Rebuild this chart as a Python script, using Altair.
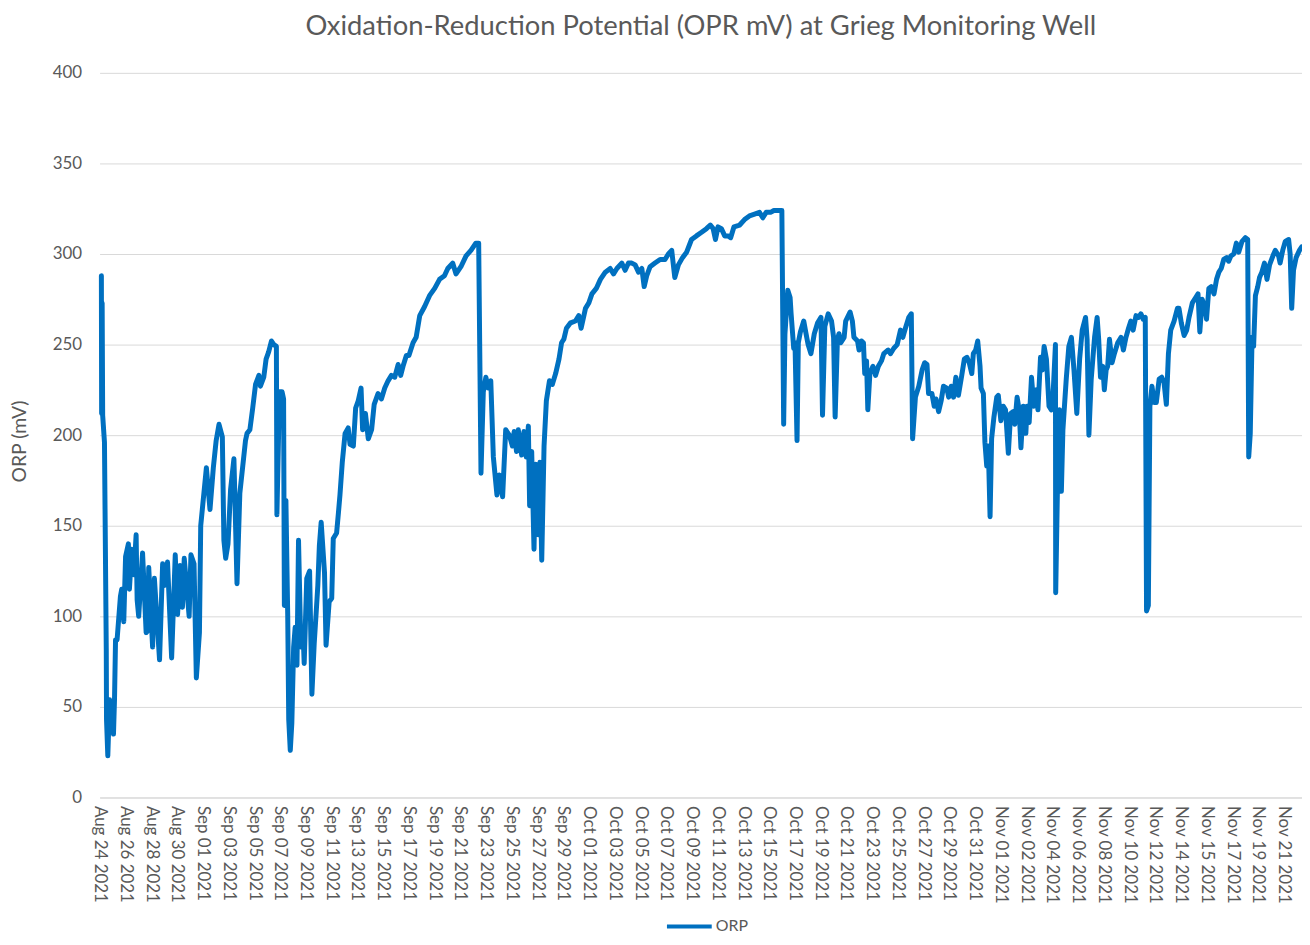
import json
import altair as alt
import pandas as pd

# Category labels shown on the x axis (every 10th category position)
x_labels = [
    "Aug 24 2021", "Aug 26 2021", "Aug 28 2021", "Aug 30 2021",
    "Sep 01 2021", "Sep 03 2021", "Sep 05 2021", "Sep 07 2021", "Sep 09 2021",
    "Sep 11 2021", "Sep 13 2021", "Sep 15 2021", "Sep 17 2021", "Sep 19 2021",
    "Sep 21 2021", "Sep 23 2021", "Sep 25 2021", "Sep 27 2021", "Sep 29 2021",
    "Oct 01 2021", "Oct 03 2021", "Oct 05 2021", "Oct 07 2021", "Oct 09 2021",
    "Oct 11 2021", "Oct 13 2021", "Oct 15 2021", "Oct 17 2021", "Oct 19 2021",
    "Oct 21 2021", "Oct 23 2021", "Oct 25 2021", "Oct 27 2021", "Oct 29 2021",
    "Oct 31 2021", "Nov 01 2021", "Nov 02 2021", "Nov 04 2021", "Nov 06 2021",
    "Nov 08 2021", "Nov 10 2021", "Nov 12 2021", "Nov 14 2021", "Nov 15 2021",
    "Nov 17 2021", "Nov 19 2021", "Nov 21 2021",
]

# Category position (tenths of a label interval)
pos = [
    0.7, 0.8, 1.0, 1.2, 1.9, 2.6, 2.7, 3.2, 3.9, 4.5, 5.4, 5.8, 6.2, 6.8, 8.1, 8.6, 9.4,
    10.1, 11.2, 11.6, 12.5, 13.3, 14.2, 14.6, 15.2, 16.7, 18.1, 18.7, 19.1, 20.6, 21.3,
    23.3, 24.5, 25.1, 26.4, 28.0, 29.4, 30.3, 31.3, 32.2, 32.9, 34.8, 35.5, 36.7, 37.6,
    38.8, 39.3, 41.5, 42.9, 44.2, 45.3, 46.4, 47.7, 48.3, 49.0, 49.9, 50.9, 52.2, 53.4,
    54.5, 56.7, 57.3, 58.4, 59.5, 60.6, 61.9, 62.5, 63.8, 64.7, 65.7, 66.8, 67.7, 68.7,
    68.9, 69.9, 70.9, 71.5, 71.8, 72.4, 73.1, 73.5, 74.1, 74.7, 75.4, 76.0, 76.7, 77.3,
    78.2, 79.0, 79.5, 80.5, 81.6, 82.5, 83.4, 84.2, 84.8, 85.4, 86.1, 87.4, 88.0, 89.2,
    90.2, 90.8, 92.1, 92.8, 93.4, 94.3, 95.4, 96.6, 97.3, 98.6, 99.5, 100.5, 101.6,
    102.2, 103.3, 104.4, 105.7, 106.7, 108.2, 109.5, 110.8, 112.1, 113.4, 114.7, 116.0,
    117.0, 117.9, 119.2, 120.2, 121.8, 123.0, 124.4, 126.3, 128.2, 130.2, 132.1, 134.0,
    135.3, 137.2, 138.5, 140.4, 142.4, 144.3, 146.2, 147.3, 148.2, 149.1, 150.1, 151.0,
    152.0, 153.0, 154.4, 155.3, 156.6, 157.8, 159.2, 160.4, 161.1, 162.0, 162.7, 164.0,
    164.9, 165.8, 166.6, 167.1, 167.9, 168.8, 169.4, 170.5, 171.1, 171.8, 172.7, 173.6,
    174.8, 175.9, 177.2, 178.5, 179.5, 180.4, 181.4, 183.0, 184.9, 186.2, 187.1, 188.8,
    190.1, 191.3, 193.0, 194.6, 196.5, 198.4, 199.7, 201.0, 202.9, 204.2, 205.5, 206.8,
    208.1, 209.4, 210.7, 211.6, 212.6, 213.9, 215.8, 217.8, 219.7, 221.0, 222.3, 223.5,
    224.9, 226.5, 228.1, 230.0, 231.9, 233.9, 235.8, 237.3, 238.4, 239.3, 240.3, 241.6,
    242.9, 244.2, 245.2, 246.5, 248.7, 250.6, 252.5, 254.5, 256.4, 257.7, 259.0, 260.7,
    262.0, 263.3, 265.1, 265.8, 266.3, 267.4, 268.3, 268.7, 269.7, 270.2, 271.0, 271.5,
    272.3, 273.6, 274.5, 275.3, 276.4, 277.7, 279.0, 280.3, 280.9, 281.8, 283.1, 284.4,
    285.2, 285.8, 286.7, 287.3, 288.0, 289.3, 289.9, 290.6, 291.6, 292.5, 293.1, 294.5,
    295.1, 296.0, 296.8, 297.3, 298.0, 298.5, 299.3, 300.5, 301.5, 302.6, 303.8, 304.7,
    306.4, 307.3, 308.6, 309.9, 311.2, 312.1, 313.1, 314.4, 315.4, 315.9, 317.0, 318.3,
    319.6, 320.6, 321.5, 322.1, 323.4, 324.3, 325.0, 326.0, 327.0, 327.9, 329.2, 329.9,
    330.9, 331.8, 332.7, 333.7, 335.0, 336.0, 337.0, 337.9, 338.9, 339.5, 340.4, 341.2,
    342.1, 342.5, 343.4, 344.0, 344.7, 345.3, 346.0, 346.6, 347.5, 348.6, 349.2, 350.2,
    351.1, 352.0, 353.1, 354.0, 355.0, 355.6, 356.5, 357.3, 358.0, 358.9, 359.9, 360.4,
    361.2, 362.1, 363.0, 364.0, 364.6, 365.6, 366.3, 367.0, 367.9, 368.9, 369.8, 370.4,
    371.4, 371.5, 372.4, 373.0, 373.7, 374.3, 375.6, 376.6, 377.6, 378.6, 379.7, 380.8,
    381.8, 383.1, 383.7, 384.4, 385.3, 386.6, 387.6, 388.2, 388.9, 389.8, 390.4, 391.1,
    391.7, 392.4, 393.4, 394.3, 395.6, 396.9, 397.8, 398.8, 399.8, 400.7, 401.6, 402.7,
    403.7, 404.6, 405.5, 406.3, 406.8, 407.5, 408.1, 408.9, 409.8, 410.6, 411.7, 412.7,
    413.6, 414.5, 415.3, 416.2, 417.5, 418.8, 419.4, 420.3, 421.4, 422.4, 423.3, 424.6,
    425.9, 426.8, 427.5, 428.4, 429.4, 430.1, 431.0, 431.9, 433.0, 434.0, 434.9, 435.8,
    436.8, 437.9, 438.7, 439.6, 440.7, 441.7, 442.6, 443.9, 445.2, 446.1, 446.5, 447.1,
    447.8, 448.4, 449.1, 450.0, 450.7, 451.6, 452.6, 453.6, 454.6, 455.9, 456.8, 458.1,
    458.7, 459.7, 460.7, 462.0, 462.6, 463.2, 463.9, 464.9, 466.2, 467.1,
]

orp = [
    288, 212, 273, 211, 196, 82, 43, 23, 54, 45, 35, 54, 87, 87, 111, 115, 97,
    133, 140, 115, 137, 123, 145, 109, 100, 135, 91, 92, 127, 83, 121,
    76, 129, 117, 130, 77, 134, 101, 128, 105, 132, 100, 134, 129, 66,
    91, 150, 182, 159, 182, 197, 206, 199, 142, 132, 140, 170, 187, 118,
    168, 197, 201, 203, 215, 228, 233, 227, 232, 242, 246, 252, 250, 249,
    156, 224, 224, 220, 106, 164, 101, 43, 26, 41, 83, 94, 73, 142,
    83, 94, 74, 121, 125, 57, 85, 103, 117, 139, 152, 124, 84, 108,
    110, 143, 146, 157, 167, 185, 201, 204, 195, 194, 215, 219, 226,
    203, 212, 198, 203, 217, 223, 220, 226, 230, 233, 232, 239,
    233, 238, 244, 244, 251, 254, 266, 271, 277, 281, 286, 288,
    292, 295, 289, 293, 299, 302, 306, 306, 179, 224, 232, 226,
    230, 188, 167, 178, 166, 203, 200, 194, 202, 191, 203, 189,
    202, 188, 205, 161, 191, 137, 184, 145, 185, 131, 194, 219,
    230, 228, 234, 242, 251, 253, 259, 262, 263, 266, 259, 270,
    273, 278, 281, 286, 290, 292, 289, 292, 295, 291, 295, 295,
    294, 290, 292, 282, 288, 293, 295, 297, 297, 300, 302, 287,
    294, 298, 301, 308, 310, 312, 314, 316, 314, 308, 315, 314,
    310, 310, 309, 315, 316, 319, 321, 322, 323, 320, 323, 323,
    324, 324, 324, 206, 256, 280, 276, 267, 248, 251, 197, 251,
    257, 263, 256, 250, 245, 256, 262, 265, 211, 260, 267, 263,
    254, 210, 253, 256, 251, 254, 263, 265, 268, 263, 254, 252,
    247, 252, 251, 234, 241, 214, 234, 238, 233, 238, 241, 245,
    247, 245, 248, 250, 258, 254, 259, 265, 267, 198, 221, 227,
    236, 240, 239, 223, 223, 216, 220, 213, 219, 227, 226, 221,
    227, 221, 232, 222, 233, 242, 243, 240, 234, 245, 247, 252,
    238, 226, 223, 196, 183, 194, 155, 198, 210, 221, 222, 208,
    216, 214, 190, 212, 213, 206, 221, 214, 193, 216, 201, 216,
    207, 232, 216, 225, 214, 243, 236, 249, 242, 216, 214, 220,
    250, 113, 189, 214, 169, 203, 231, 249, 254, 236, 212, 242,
    258, 265, 253, 200, 231, 254, 265, 253, 232, 238, 225, 236,
    238, 253, 240, 245, 251, 254, 247, 254, 259, 263, 258, 266,
    265, 267, 264, 265, 103, 106, 216, 227, 218, 218, 231, 232,
    229, 217, 245, 258, 263, 270, 270, 262, 255, 258, 265, 273,
    276, 278, 257, 275, 271, 264, 281, 282, 278, 286, 290, 292,
    297, 298, 296, 299, 300, 306, 301, 307, 309, 308, 188, 201,
    254, 249, 277, 282, 287, 290, 295, 286, 294, 299, 302, 299,
    295, 302, 307, 308, 300, 270, 291, 298, 302, 304,
]

series_name = ["ORP"]
y_ticks = [0, 50, 100, 150, 200, 250, 300, 350, 400]

df = pd.DataFrame({"pos": pos, "orp": orp, "series": series_name * len(pos)})

label_expr = json.dumps(x_labels) + "[round(datum.value / 10)]"
tick_positions = [i * 10 for i in range(len(x_labels))]

GRAY = "#595959"
BLUE = "#0070C0"

chart = (
    alt.Chart(df)
    .mark_line(strokeWidth=5, strokeJoin="round", strokeCap="round")
    .encode(
        x=alt.X(
            "pos:Q",
            scale=alt.Scale(domain=[0, 467.2], nice=False, zero=False),
            axis=alt.Axis(
                title=None,
                values=tick_positions,
                labelExpr=label_expr,
                labelAngle=90,
                labelFontSize=17,
                labelColor=GRAY,
                labelPadding=8,
                labelFlush=False,
                labelOverlap=False,
                ticks=False,
                grid=False,
                domain=True,
                domainColor="#d9d9d9",
                domainWidth=1,
            ),
        ),
        y=alt.Y(
            "orp:Q",
            scale=alt.Scale(domain=[0, 400], nice=False),
            axis=alt.Axis(
                title="ORP (mV)",
                values=y_ticks,
                labelFontSize=17,
                labelColor=GRAY,
                labelPadding=18,
                ticks=False,
                domain=False,
                grid=True,
                gridColor="#d9d9d9",
                gridWidth=1,
                titleFontSize=19.5,
                titleFontWeight="normal",
                titleColor=GRAY,
                titleX=-80,
                titleY=370,
                titleAngle=-90,
                titleAlign="center",
                titleBaseline="middle",
            ),
        ),
        color=alt.Color(
            "series:N",
            scale=alt.Scale(range=[BLUE]),
            legend=alt.Legend(
                title=None,
                orient="none",
                legendX=568,
                legendY=833,
                direction="horizontal",
                symbolType="stroke",
                symbolSize=2025,
                symbolStrokeWidth=4,
                labelFontSize=16,
                labelColor=GRAY,
                labelOffset=2,
                padding=0,
            ),
        ),
    )
    .properties(
        width=1208,
        height=728,
        autosize=alt.AutoSizeParams(type="none"),
        padding={"left": 92, "top": 63, "right": 0, "bottom": 137},
        title=alt.TitleParams(
            "Oxidation-Reduction Potential (OPR mV) at Grieg Monitoring Well",
            fontSize=27.5,
            fontWeight="normal",
            color=GRAY,
            anchor="middle",
            baseline="middle",
            offset=10,
        ),
    )
    .configure(font="Lato", background="white")
    .configure_view(stroke=None)
)

chart.save("out.html", embed_options={"renderer": "svg", "actions": False})
